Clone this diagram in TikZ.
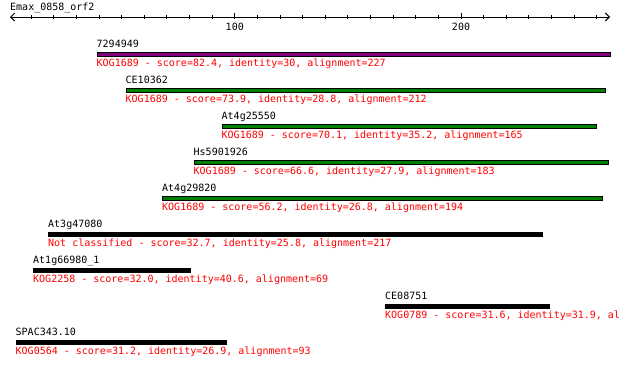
\documentclass[tikz,border=0pt]{standalone}
\usepackage{fontspec}
\setmonofont{DejaVu Sans Mono}
\usetikzlibrary{arrows.meta, positioning}
\definecolor{kogpurple}{HTML}{800080}
\definecolor{koggreen}{HTML}{008000}
\definecolor{kogred}{HTML}{FF0000}

\begin{document}
\begin{tikzpicture}[x=1pt, y=-1pt,
	every node/.style={inner sep=0pt, font=\ttfamily\fontsize{10}{12}\selectfont},
	hit/.style={draw=black, line width=1pt, minimum height=3.4pt, anchor=west},
	seqname/.style={text=black, text height=7.3pt, text depth=2.5pt, above right=1.7pt and 0pt of #1.north west},
	kogline/.style={text=kogred, text height=7.3pt, text depth=2.5pt, below right=2.6pt and 0pt of #1.south west},
	barb/.tip={Straight Barb[length=4pt, width=8pt]}]
	\useasboundingbox (0,0) rectangle (620,365);
	\clip (0,0) rectangle (620,365);

	\node[anchor=base west] (title) at (10,10) {Emax\_0858\_orf2};
	\coordinate (rstart) at (10,17);
	\coordinate (rend)   at (610,17);
	\draw[line width=1pt, barb-barb] (rstart) -- (rend);
	\foreach \v in {10,20,...,260}
		\draw[line width=1pt] ({8.5+2.2626*\v},14.7) -- ++(0,4.6);
	\foreach \v in {100,200} {
		\draw[line width=1pt] ({8.5+2.2626*\v},12.7) -- ++(0,6.6);
		\node[anchor=base] (t\v) at ({8.5+2.2626*\v},30) {\v};
	}

	\node[hit, fill=kogpurple, minimum width=513.7pt] (h7294949)   at (96.5,54.4)  {};
	\node[seqname=h7294949]   (n7294949)   {7294949};
	\node[kogline=h7294949]   (k7294949)   {KOG1689 - score=82.4, identity=30, alignment=227};

	\node[hit, fill=koggreen, minimum width=479.7pt]  (hCE10362)   at (125.5,90.4) {};
	\node[seqname=hCE10362]   (nCE10362)   {CE10362};
	\node[kogline=hCE10362]   (kCE10362)   {KOG1689 - score=73.9, identity=28.8, alignment=212};

	\node[hit, fill=koggreen, minimum width=374pt]    (hAt4g25550) at (221.5,126.4) {};
	\node[seqname=hAt4g25550] (nAt4g25550) {At4g25550};
	\node[kogline=hAt4g25550] (kAt4g25550) {KOG1689 - score=70.1, identity=35.2, alignment=165};

	\node[hit, fill=koggreen, minimum width=414.7pt]  (hHs5901926) at (193.5,162.4) {};
	\node[seqname=hHs5901926] (nHs5901926) {Hs5901926};
	\node[kogline=hHs5901926] (kHs5901926) {KOG1689 - score=66.6, identity=27.9, alignment=183};

	\node[hit, fill=koggreen, minimum width=439.5pt]  (hAt4g29820) at (162,198.4)  {};
	\node[seqname=hAt4g29820] (nAt4g29820) {At4g29820};
	\node[kogline=hAt4g29820] (kAt4g29820) {KOG1689 - score=56.2, identity=26.8, alignment=194};

	\node[hit, fill=black, minimum width=493.5pt]     (hAt3g47080) at (48,234.4)   {};
	\node[seqname=hAt3g47080] (nAt3g47080) {At3g47080};
	\node[kogline=hAt3g47080] (kAt3g47080) {Not classified - score=32.7, identity=25.8, alignment=217};

	\node[hit, fill=black, minimum width=157pt]       (hAt1g66980) at (33,270.4)   {};
	\node[seqname=hAt1g66980] (nAt1g66980) {At1g66980\_1};
	\node[kogline=hAt1g66980] (kAt1g66980) {KOG2258 - score=32.0, identity=40.6, alignment=69};

	\node[hit, fill=black, minimum width=163.5pt]     (hCE08751)   at (385,306.4)  {};
	\node[seqname=hCE08751]   (nCE08751)   {CE08751};
	\node[kogline=hCE08751]   (kCE08751)   {KOG0789 - score=31.6, identity=31.9, al};

	\node[hit, fill=black, minimum width=210pt]       (hSPAC34310) at (15.5,342.4) {};
	\node[seqname=hSPAC34310] (nSPAC34310) {SPAC343.10};
	\node[kogline=hSPAC34310] (kSPAC34310) {KOG0564 - score=31.2, identity=26.9, alignment=93};
\end{tikzpicture}
\end{document}
